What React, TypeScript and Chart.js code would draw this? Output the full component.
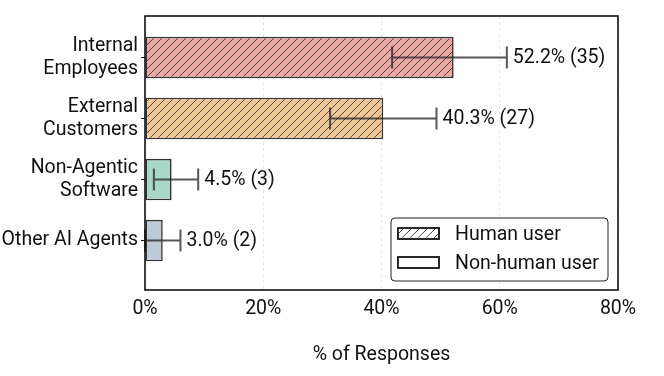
import React, { useEffect, useRef } from "react";
import { Chart, registerables } from "chart.js";

Chart.register(...registerables);

const categories: string[][] = [
  ["Internal", "Employees"],
  ["External", "Customers"],
  ["Non-Agentic", "Software"],
  ["Other AI Agents"],
];
const percents = [52.2, 40.3, 4.5, 3.0];
const counts = [35, 27, 3, 2];
const ciLow = [41.8, 31.3, 1.5, 0.0];
const ciHigh = [61.2, 49.3, 9.0, 6.0];
const hatched = [true, true, false, false];
const barColors = ["#EBA8A3", "#EFC696", "#A9D8C9", "#BFCAD8"];
const xTicks = [0, 20, 40, 60, 80];
const legendLabels = ["Human user", "Non-human user"];
const legendHatched = [true, false];

const FONT = "Roboto";
const FS = 19.5;
const TXT = "#111111";

function makePattern(bg: string): CanvasPattern | string {
  const s = 8;
  const c = document.createElement("canvas");
  c.width = s;
  c.height = s;
  const g = c.getContext("2d");
  if (!g) return bg;
  g.fillStyle = bg;
  g.fillRect(0, 0, s, s);
  g.strokeStyle = "#3a3a3a";
  g.lineWidth = 0.9;
  g.beginPath();
  g.moveTo(0, s);
  g.lineTo(s, 0);
  g.moveTo(-s / 2, s / 2);
  g.lineTo(s / 2, -s / 2);
  g.moveTo(s / 2, s + s / 2);
  g.lineTo(s + s / 2, s / 2);
  g.stroke();
  const p = g.createPattern(c, "repeat");
  return p || bg;
}

export default function App() {
  const ref = useRef<HTMLCanvasElement | null>(null);

  useEffect(() => {
    document.body.style.margin = "0";
    const canvas = ref.current;
    if (!canvas) return;

    const fills = barColors.map((col, i) => (hatched[i] ? makePattern(col) : col));
    const legendFills = legendHatched.map((h) => (h ? makePattern("#ffffff") : "#ffffff"));

    const overlay = {
      id: "overlay",
      afterDatasetsDraw(chart: any) {
        const ctx = chart.ctx;
        const xs = chart.scales.x;
        const ys = chart.scales.y;
        ctx.save();
        for (let i = 0; i < percents.length; i++) {
          const y = ys.getPixelForValue(i);
          const x0 = xs.getPixelForValue(ciLow[i]);
          const x1 = xs.getPixelForValue(ciHigh[i]);
          ctx.strokeStyle = "rgba(40,40,40,0.78)";
          ctx.lineWidth = 2;
          ctx.beginPath();
          ctx.moveTo(x0, y);
          ctx.lineTo(x1, y);
          ctx.moveTo(x0, y - 11);
          ctx.lineTo(x0, y + 11);
          ctx.moveTo(x1, y - 11);
          ctx.lineTo(x1, y + 11);
          ctx.stroke();
          ctx.fillStyle = TXT;
          ctx.font = `${FS}px ${FONT}`;
          ctx.textAlign = "left";
          ctx.textBaseline = "middle";
          ctx.fillText(`${percents[i].toFixed(1)}% (${counts[i]})`, x1 + 6, y + 1);
        }
        ctx.restore();
      },
      afterDraw(chart: any) {
        const ctx = chart.ctx;
        const a = chart.chartArea;
        ctx.save();
        ctx.strokeStyle = "#111";
        ctx.lineWidth = 1.6;
        ctx.strokeRect(a.left, a.top, a.right - a.left, a.bottom - a.top);
        const lx = a.right - 227;
        const ly = a.bottom - 72;
        const lw = 217;
        const lh = 63;
        const r = 4;
        ctx.beginPath();
        ctx.moveTo(lx + r, ly);
        ctx.lineTo(lx + lw - r, ly);
        ctx.arcTo(lx + lw, ly, lx + lw, ly + r, r);
        ctx.lineTo(lx + lw, ly + lh - r);
        ctx.arcTo(lx + lw, ly + lh, lx + lw - r, ly + lh, r);
        ctx.lineTo(lx + r, ly + lh);
        ctx.arcTo(lx, ly + lh, lx, ly + lh - r, r);
        ctx.lineTo(lx, ly + r);
        ctx.arcTo(lx, ly, lx + r, ly, r);
        ctx.closePath();
        ctx.fillStyle = "rgba(255,255,255,0.95)";
        ctx.fill();
        ctx.strokeStyle = "#222";
        ctx.lineWidth = 1;
        ctx.stroke();
        for (let i = 0; i < legendLabels.length; i++) {
          const py = ly + 10 + i * 29;
          ctx.fillStyle = legendFills[i] as any;
          ctx.fillRect(lx + 7, py, 41, 11);
          ctx.strokeStyle = "#111";
          ctx.lineWidth = 1.8;
          ctx.strokeRect(lx + 7, py, 41, 11);
          ctx.fillStyle = TXT;
          ctx.font = `${FS}px ${FONT}`;
          ctx.textAlign = "left";
          ctx.textBaseline = "middle";
          ctx.fillText(legendLabels[i], lx + 64, py + 7.5);
        }
        ctx.restore();
      },
    };

    const chart = new Chart(canvas, {
      type: "bar",
      data: {
        datasets: [
          {
            data: percents.map((v, i) => ({ x: v, y: i })),
            backgroundColor: fills as any,
            borderColor: "#333333",
            borderWidth: 1.6,
            borderSkipped: false,
            barPercentage: 0.68,
            categoryPercentage: 1,
          } as any,
        ],
      },
      options: {
        indexAxis: "y",
        animation: false,
        responsive: false,
        maintainAspectRatio: false,
        layout: { padding: { top: 16, right: 46, left: 0, bottom: 0 } },
        plugins: { legend: { display: false }, tooltip: { enabled: false } },
        scales: {
          x: {
            type: "linear",
            min: 0,
            max: 80,
            offset: false,
            afterBuildTicks: (s: any) => {
              s.ticks = xTicks.map((v) => ({ value: v }));
            },
            afterFit: (s: any) => {
              s.height = 86;
              s.paddingLeft = 0;
              s.paddingRight = 0;
            },
            ticks: {
              color: TXT,
              font: { family: FONT, size: FS },
              padding: 7,
              maxRotation: 0,
              callback: (v: any) => `${v}%`,
            },
            grid: {
              color: "rgba(0,0,0,0.13)",
              lineWidth: 0.8,
              drawTicks: false,
              offset: false,
            },
            border: { display: false, dash: [3, 3] },
            title: {
              display: true,
              text: "% of Responses",
              color: TXT,
              font: { family: FONT, size: FS },
              padding: { top: 0, bottom: 9 },
            },
          },
          y: {
            type: "linear",
            reverse: true,
            min: -0.68,
            max: 3.81,
            offset: false,
            grace: 0,
            afterBuildTicks: (s: any) => {
              s.ticks = categories.map((_, i) => ({ value: i }));
            },
            afterFit: (s: any) => {
              s.width = 145;
              s.paddingTop = 0;
              s.paddingBottom = 0;
            },
            ticks: {
              color: TXT,
              font: { family: FONT, size: FS, lineHeight: 1.15 },
              padding: 3,
              autoSkip: false,
              callback: (v: any) => categories[v] ?? "",
            },
            grid: {
              drawOnChartArea: false,
              drawTicks: true,
              tickLength: 4,
              color: "#111",
              lineWidth: 1,
              offset: false,
            },
            border: { display: false },
          },
        },
      },
      plugins: [overlay],
    });

    return () => chart.destroy();
  }, []);

  return (
    <div style={{ width: 664, height: 376, position: "relative" }}>
      <canvas ref={ref} width={664} height={376} style={{ width: 664, height: 376 }} />
    </div>
  );
}
